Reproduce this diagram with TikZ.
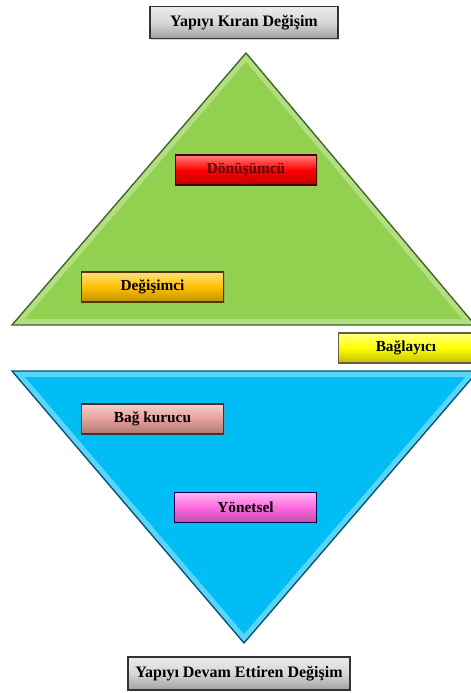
\documentclass[tikz,border=0pt]{standalone}
\usepackage{fontspec}
\setmainfont{Liberation Serif}
\usetikzlibrary{shadows}
\definecolor{yesil}{RGB}{146,208,80}
\definecolor{koyuyesil}{RGB}{60,100,30}
\definecolor{mavi}{RGB}{0,190,245}
\definecolor{koyumavi}{RGB}{0,80,110}
\definecolor{turuncu}{RGB}{255,192,0}
\definecolor{somon}{RGB}{230,160,155}
\definecolor{pembe}{RGB}{255,105,225}
\definecolor{gri}{RGB}{215,215,215}
\tikzset{
  kutu/.style={rectangle, draw=#1!30!black, line width=0.8pt,
    top color=#1!50!white, bottom color=#1!75!black, middle color=#1,
    minimum width=106pt, minimum height=22.5pt, inner sep=2pt,
    font=\fontsize{11.5}{13}\selectfont\bfseries, text=black,
    drop shadow={opacity=0.35, shadow xshift=1pt, shadow yshift=-1pt}},
  baslikkutu/.style={kutu=gri, draw=black!80, minimum height=23.5pt,
    font=\fontsize{12}{14}\selectfont\bfseries}
}
\begin{document}
\begin{tikzpicture}[x=0.75pt,y=-0.75pt]
\useasboundingbox (0,0) rectangle (471,693);
% ust ucgen
\draw [koyuyesil, line width=1pt, fill=yesil!70!white] (12,325) -- (246,53) -- (475,325) -- cycle;
\fill [yesil] (25,319) -- (246,62) -- (462,319) -- cycle;
% alt ucgen
\draw [koyumavi, line width=1pt, fill=mavi!65!white] (12,371) -- (478,371) -- (244,643) -- cycle;
\fill [mavi] (25,377) -- (465,377) -- (244,634) -- cycle;

\node [baslikkutu, minimum width=141pt] (baslik) at (244,22.5) {Yapıyı Kıran Değişim};
\node [kutu=red, text=red!35!black] (donusumcu) at (246,170) {Dönüşümcü};
\node [kutu=turuncu] (degisimci) at (152.5,287) {Değişimci};
\node [kutu=yellow, minimum width=101pt] (baglayici) at (406,348) {Bağlayıcı};
\node [kutu=somon] (bagkurucu) at (152.5,419) {Bağ kurucu};
\node [kutu=pembe, draw=blue!30!black] (yonetsel) at (245.5,507.5) {Yönetsel};
\node [baslikkutu, minimum width=166.5pt, minimum height=24.75pt] (altbaslik) at (239,673.5) {Yapıyı Devam Ettiren Değişim};
\end{tikzpicture}
\end{document}
